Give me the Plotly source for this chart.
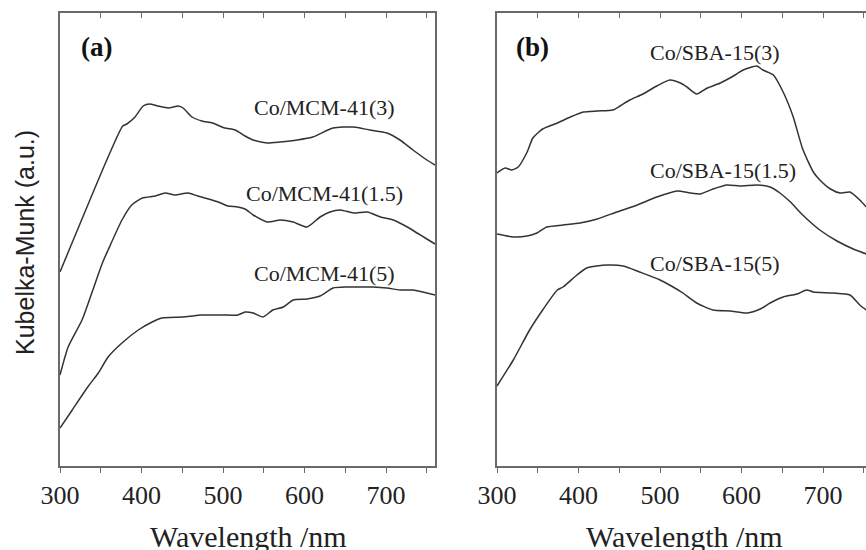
import plotly.graph_objects as go

# ---- Panel (a): Co/MCM-41 series ----
mcm3_wl = [300, 359, 377, 382, 392, 402, 410, 420, 433, 445, 451, 462, 474, 487, 502,
           515, 527, 537, 554, 570, 591, 610, 635, 660, 680, 701, 717, 733, 750, 760]
mcm3_km = [193, 308, 339, 341, 348, 359, 361, 359, 357, 359, 357, 348, 344, 342, 337,
           335, 329, 325, 322, 323, 325, 328, 337, 338, 335, 332, 325, 315, 305, 300]

mcm15_wl = [300, 310, 327, 339, 352, 359, 376, 388, 401, 417, 429, 441, 457, 469, 482,
            494, 506, 518, 527, 537, 554, 570, 586, 603, 619, 631, 644, 660, 677, 693,
            709, 726, 738, 750, 760]
mcm15_km = [90, 118, 145, 172, 202, 215, 245, 260, 267, 269, 272, 270, 272, 269, 266,
            263, 259, 258, 256, 250, 243, 245, 243, 238, 248, 253, 255, 252, 253, 248,
            245, 238, 232, 226, 221]

mcm5_wl = [300, 315, 334, 347, 359, 376, 396, 413, 425, 450, 474, 499, 518, 527, 537,
           549, 561, 574, 586, 603, 619, 635, 652, 668, 684, 701, 717, 733, 750, 760]
mcm5_km = [37, 55, 78, 92, 108, 122, 135, 143, 147, 148, 150, 150, 150, 153, 152,
           148, 155, 158, 165, 166, 169, 177, 178, 178, 178, 177, 175, 175, 172, 170]

# ---- Panel (b): Co/SBA-15 series ----
sba3_wl = [300, 310, 318, 326, 337, 344, 356, 374, 390, 406, 423, 442, 451, 463, 479,
           496, 512, 525, 533, 545, 558, 574, 590, 602, 619, 626, 639, 651, 663, 675,
           688, 696, 709, 721, 733, 745, 753]
sba3_km = [292, 297, 295, 298, 313, 327, 336, 342, 348, 353, 354, 355, 359, 365, 371,
           379, 385, 382, 378, 371, 377, 382, 389, 395, 399, 395, 390, 373, 349, 316,
           293, 285, 276, 272, 273, 265, 258]

sba15_wl = [300, 320, 337, 349, 361, 381, 402, 423, 447, 472, 496, 521, 537, 549, 565,
            582, 598, 619, 635, 647, 660, 675, 696, 717, 737, 753]
sba15_km = [231, 228, 229, 232, 238, 240, 242, 246, 253, 260, 268, 274, 272, 271, 276,
            280, 279, 280, 278, 272, 263, 250, 235, 224, 216, 211]

sba5_wl = [300, 320, 340, 356, 374, 381, 398, 410, 435, 455, 475, 500, 516, 528, 545,
           565, 586, 607, 623, 635, 651, 668, 680, 688, 712, 733, 745, 753]
sba5_km = [79, 105, 135, 155, 175, 178, 190, 197, 200, 199, 193, 185, 178, 172, 162,
           155, 154, 152, 156, 162, 168, 171, 175, 173, 172, 170, 160, 155]

# Curve labels: (text, wavelength, K-M value)
labels_a = [("Co/MCM-41(3)", 625, 358), ("Co/MCM-41(1.5)", 625, 272), ("Co/MCM-41(5)", 625, 192)]
labels_b = [("Co/SBA-15(3)", 567, 413), ("Co/SBA-15(1.5)", 577, 295), ("Co/SBA-15(5)", 567, 202)]

tick_vals = [300, 350, 400, 450, 500, 550, 600, 650, 700, 750]
tick_text = ["300", "", "400", "", "500", "", "600", "", "700", ""]

W, H = 866, 550
LINE = "#333333"
AXC = "#6a6a6a"
SERIF = "Liberation Serif, Times New Roman, serif"
SANS = "Liberation Sans, Arial, sans-serif"

fig = go.Figure()
for wl, km in [(mcm3_wl, mcm3_km), (mcm15_wl, mcm15_km), (mcm5_wl, mcm5_km)]:
    fig.add_trace(go.Scatter(x=wl, y=km, mode="lines", xaxis="x", yaxis="y",
                             line=dict(color=LINE, width=1.5, shape="spline", smoothing=0.6),
                             showlegend=False, hoverinfo="x+y"))
for wl, km in [(sba3_wl, sba3_km), (sba15_wl, sba15_km), (sba5_wl, sba5_km)]:
    fig.add_trace(go.Scatter(x=wl, y=km, mode="lines", xaxis="x2", yaxis="y2",
                             line=dict(color=LINE, width=1.5, shape="spline", smoothing=0.6),
                             showlegend=False, hoverinfo="x+y"))
# empty traces so the top (inward tick) axes are drawn
fig.add_trace(go.Scatter(x=[], y=[], xaxis="x3", yaxis="y", showlegend=False))
fig.add_trace(go.Scatter(x=[], y=[], xaxis="x4", yaxis="y2", showlegend=False))

left_dom = [60 / W, 435 / W]
right_dom = [497 / W, 1.0]
px_per_nm = 375 / 460.0
right_max = 300 + (W - 497) / px_per_nm

def bottom_axis(dom, rng, anchor):
    return dict(domain=dom, range=rng, anchor=anchor, showgrid=False, zeroline=False,
                showline=True, linecolor=AXC, linewidth=1.5, automargin=False,
                ticks="outside", ticklen=5, tickwidth=1.2, tickcolor=AXC,
                tickmode="array", tickvals=tick_vals, ticktext=tick_text,
                tickfont=dict(family=SERIF, size=26, color="#222222"))

def top_axis(rng, over, anchor):
    return dict(range=rng, overlaying=over, side="top", anchor=anchor, showgrid=False,
                zeroline=False, showline=True, linecolor=AXC, linewidth=1.5, automargin=False,
                ticks="inside", ticklen=5, tickwidth=1.2, tickcolor=AXC,
                tickmode="array", tickvals=tick_vals, showticklabels=False)

yax = dict(range=[-1, 452], domain=[0, 1], showgrid=False, zeroline=False, automargin=False,
           showticklabels=False, ticks="", showline=True, linecolor=AXC, linewidth=1.5)

fig.update_layout(
    width=W, height=H,
    margin=dict(l=0, r=0, t=13, b=84, autoexpand=False),
    paper_bgcolor="white", plot_bgcolor="white",
    xaxis=bottom_axis(left_dom, [300, 760], "y"),
    xaxis2=bottom_axis(right_dom, [300, right_max], "y2"),
    xaxis3=top_axis([300, 760], "x", "y"),
    xaxis4=top_axis([300, right_max], "x2", "y2"),
    yaxis=dict(yax, anchor="x", mirror=True),
    yaxis2=dict(yax, anchor="x2", mirror=False),
)

ann = []
for text, wl, km in labels_a:
    ann.append(dict(text=text, x=wl, y=km, xref="x", yref="y", showarrow=False,
                    xanchor="center", yanchor="middle",
                    font=dict(family=SERIF, size=22, color="#222222")))
for text, wl, km in labels_b:
    ann.append(dict(text=text, x=wl, y=km, xref="x2", yref="y2", showarrow=False,
                    xanchor="center", yanchor="middle",
                    font=dict(family=SERIF, size=22, color="#222222")))

def py(pix):
    return (466 - pix) / 453.0

ann += [
    dict(text="<b>(a)</b>", x=96 / W, y=py(47), xref="paper", yref="paper", showarrow=False,
         xanchor="center", yanchor="middle",
         font=dict(family=SERIF, size=27, color="#111111")),
    dict(text="<b>(b)</b>", x=532 / W, y=py(47), xref="paper", yref="paper", showarrow=False,
         xanchor="center", yanchor="middle",
         font=dict(family=SERIF, size=27, color="#111111")),
    dict(text="Wavelength /nm", x=248 / W, y=py(518), xref="paper", yref="paper",
         xanchor="center", yanchor="top", showarrow=False,
         font=dict(family=SERIF, size=30, color="#222222")),
    dict(text="Wavelength /nm", x=684 / W, y=py(518), xref="paper", yref="paper",
         xanchor="center", yanchor="top", showarrow=False,
         font=dict(family=SERIF, size=30, color="#222222")),
    dict(text="Kubelka-Munk (a.u.)", x=25 / W, y=py(243), xref="paper", yref="paper",
         xanchor="center", yanchor="middle", textangle=-90, showarrow=False,
         font=dict(family=SANS, size=25, color="#222222")),
]
fig.update_layout(annotations=ann)

fig.write_html("out.html")
